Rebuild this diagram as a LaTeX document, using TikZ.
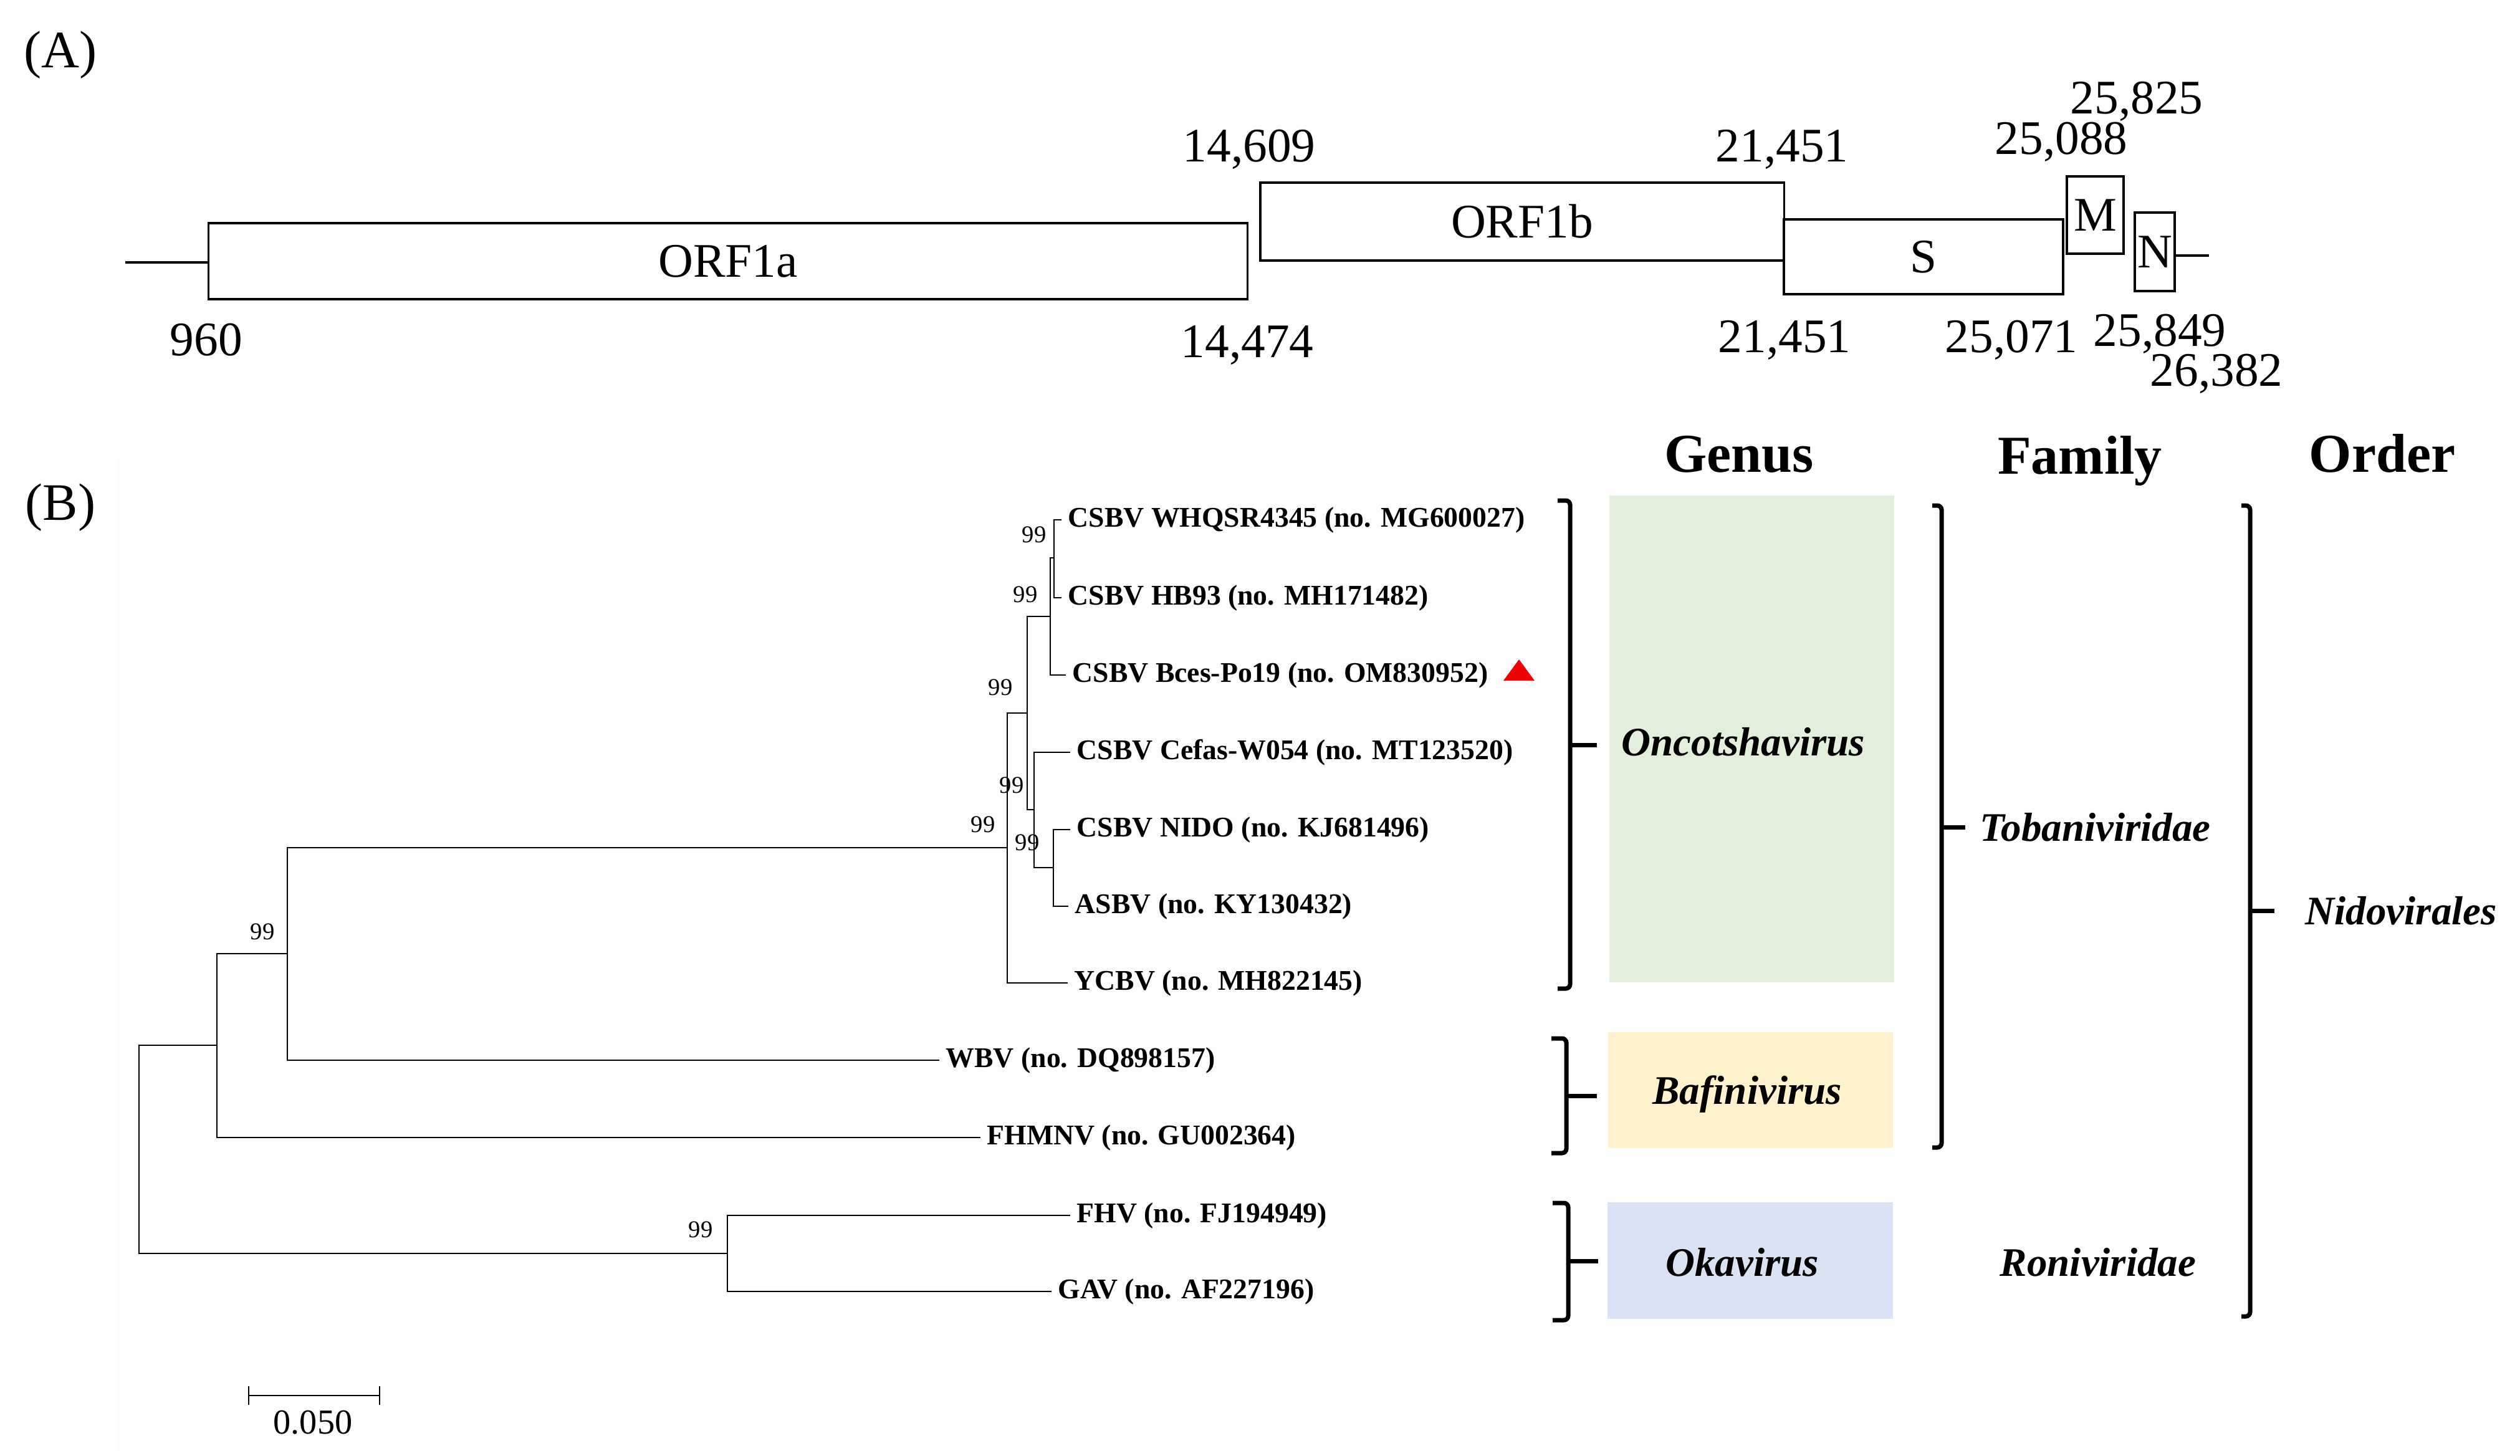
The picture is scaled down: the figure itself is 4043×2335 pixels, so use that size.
\documentclass[tikz,border=0pt]{standalone}
\usepackage{fontspec}
\setmainfont{Liberation Serif}
\definecolor{gGreen}{HTML}{E2EFDA}
\definecolor{gYellow}{HTML}{FFF2CC}
\definecolor{gBlue}{HTML}{DAE3F3}
\definecolor{treeBg}{HTML}{FDFDFD}
\definecolor{triRed}{HTML}{F00000}
\begin{document}
\begin{tikzpicture}[x=0.01cm, y=-0.01cm,
  orf/.style={draw, line width=1pt, inner sep=0pt, font=\fontsize{22}{26}\selectfont},
  num/.style={inner sep=0pt, anchor=base, font=\fontsize{22}{26}\selectfont},
  panel/.style={inner sep=0pt, anchor=base, font=\fontsize{24}{28}\selectfont},
  branch/.style={line width=0.8pt},
  leaf/.style={anchor=west, inner ysep=0pt, inner xsep=0.1cm, font=\fontsize{13}{15}\selectfont\bfseries},
  boot/.style={inner sep=0pt, font=\fontsize{11}{13}\selectfont},
  head/.style={inner sep=0pt, anchor=base, font=\fontsize{25}{30}\selectfont\bfseries},
  taxon/.style={inner sep=0pt, font=\fontsize{18.5}{22}\selectfont\bfseries\itshape},
  brk/.style={line width=2pt, rounded corners=2pt}
]
\useasboundingbox (0,0) rectangle (4043,2335);

% ---------------- Panel A ----------------
\node[panel] (labA) at (97,108) {(A)};

\node[orf, minimum width=16.66cm, minimum height=1.22cm] (ORF1a) at (1168,419) {ORF1a};
\node[orf, minimum width=8.40cm, minimum height=1.25cm] (ORF1b) at (2442,355.5) {ORF1b};
\node[orf, minimum width=4.48cm, minimum height=1.20cm] (S) at (3086,412) {S};
\node[orf, minimum width=0.91cm, minimum height=1.24cm] (M) at (3361.5,345) {M};
\node[orf, minimum width=0.64cm, minimum height=1.26cm] (N) at (3457,404) {N};

\coordinate (lead) at (201,421);
\coordinate (tail) at (3544,410);
\draw[line width=1pt] (lead) -- (lead -| ORF1a.west);
\draw[line width=1pt] (N.east |- tail) -- (tail);

\node[num] (p960) at (331,570) {960};
\node[num] (p14609) at (2004,259) {14,609};
\node[num] (p14474) at (2001,573) {14,474};
\node[num] (p21451t) at (2859,259) {21,451};
\node[num] (p21451b) at (2863,565) {21,451};
\node[num] (p25088) at (3307,247) {25,088};
\node[num] (p25825) at (3428,182) {25,825};
\node[num] (p25071) at (3227,565) {25,071};
\node[num] (p25849) at (3465,555) {25,849};
\node[num] (p26382) at (3556,619) {26,382};

% ---------------- Panel B ----------------
\node[panel] (labB) at (97,834) {(B)};
\fill[treeBg] (187,735) rectangle (2480,2330);

% leaves
\node[leaf] (L1) at (1703,834) {CSBV WHQSR4345 (no. MG600027)};
\node[leaf] (L2) at (1703,959) {CSBV HB93 (no. MH171482)};
\node[leaf] (L3) at (1710,1083) {CSBV Bces-Po19 (no. OM830952)};
\node[leaf] (L4) at (1717,1207) {CSBV Cefas-W054 (no. MT123520)};
\node[leaf] (L5) at (1717,1331) {CSBV NIDO (no. KJ681496)};
\node[leaf] (L6) at (1714,1454) {ASBV (no. KY130432)};
\node[leaf] (L7) at (1713,1577) {YCBV (no. MH822145)};
\node[leaf] (L8) at (1507,1701) {WBV (no. DQ898157)};
\node[leaf] (L9) at (1573,1825) {FHMNV (no. GU002364)};
\node[leaf] (L10) at (1717,1950) {FHV (no. FJ194949)};
\node[leaf] (L11) at (1687,2072) {GAV (no. AF227196)};

% internal nodes
\coordinate (n1) at (1691,895);
\coordinate (n2) at (1685,989);
\coordinate (n3) at (1690,1392);
\coordinate (n4) at (1659,1299);
\coordinate (n5) at (1648,1144);
\coordinate (n6) at (1616,1360);
\coordinate (n7) at (461,1530);
\coordinate (n8) at (348,1677);
\coordinate (n9) at (1167,2011);
\coordinate (root) at (223,1844);

\draw[branch] (n1) |- (L1.west);
\draw[branch] (n1) |- (L2.west);
\draw[branch] (n2) |- (n1);
\draw[branch] (n2) |- (L3.west);
\draw[branch] (n3) |- (L5.west);
\draw[branch] (n3) |- (L6.west);
\draw[branch] (n4) |- (L4.west);
\draw[branch] (n4) |- (n3);
\draw[branch] (n5) |- (n2);
\draw[branch] (n5) |- (n4);
\draw[branch] (n6) |- (n5);
\draw[branch] (n6) |- (L7.west);
\draw[branch] (n7) |- (n6);
\draw[branch] (n7) |- (L8.west);
\draw[branch] (n8) |- (n7);
\draw[branch] (n8) |- (L9.west);
\draw[branch] (n9) |- (L10.west);
\draw[branch] (n9) |- (L11.west);
\draw[branch] (n8) -| (root) |- (n9);

% bootstrap values
\node[boot] (b1) at (1659,858) {99};
\node[boot] (b2) at (1645,954) {99};
\node[boot] (b3) at (1605,1103) {99};
\node[boot] (b4) at (1623,1260) {99};
\node[boot] (b5) at (1577,1323) {99};
\node[boot] (b6) at (1648,1352) {99};
\node[boot] (b7) at (421,1495) {99};
\node[boot] (b8) at (1124,1973) {99};

% red triangle
\fill[triRed] (2412,1092) -- (2462,1092) -- (2437,1058) -- cycle;

% scale bar
\coordinate (sbL) at (399,2239);
\coordinate (sbR) at (609,2239);
\draw[branch] (sbL) -- (sbR);
\draw[branch] ([yshift=0.15cm]sbL) -- ([yshift=-0.15cm]sbL);
\draw[branch] ([yshift=0.15cm]sbR) -- ([yshift=-0.15cm]sbR);
\node[inner sep=0pt, anchor=base, font=\fontsize{16}{19}\selectfont] (sbT) at (502,2300) {0.050};

% headers
\node[head] (hGenus) at (2790,757) {Genus};
\node[head] (hFamily) at (3337,760) {Family};
\node[head] (hOrder) at (3822,757) {Order};

% genus boxes
\fill[gGreen] (2582,795) rectangle (3039,1576);
\fill[gYellow] (2580,1656) rectangle (3037,1842);
\fill[gBlue] (2579,1929) rectangle (3037,2116);
\node[taxon] (tOnc) at (2797,1190) {Oncotshavirus};
\node[taxon] (tBaf) at (2803,1755) {Bafinivirus};
\node[taxon] (tOka) at (2795,2025) {Okavirus};

% brackets
\draw[brk] (2499,803) -- (2519,803) -- (2519,1586) -- (2499,1586);
\draw[brk] (2519,1195) -- (2562,1195);
\draw[brk] (2489,1666) -- (2513,1666) -- (2513,1850) -- (2489,1850);
\draw[brk] (2513,1758) -- (2562,1758);
\draw[brk] (2491,1930) -- (2516,1930) -- (2516,2118) -- (2491,2118);
\draw[brk] (2516,2023) -- (2564,2023);

\draw[brk] (3100,811) -- (3115,811) -- (3115,1841) -- (3100,1841);
\draw[brk] (3115,1327) -- (3153,1327);
\draw[brk] (3596,811) -- (3610,811) -- (3610,2112) -- (3596,2112);
\draw[brk] (3610,1461) -- (3649,1461);

\node[taxon, anchor=west] (tTob) at (3176,1327) {Tobaniviridae};
\node[taxon] (tRon) at (3366,2025) {Roniviridae};
\node[taxon, anchor=west] (tNid) at (3698,1461) {Nidovirales};
\end{tikzpicture}
\end{document}
